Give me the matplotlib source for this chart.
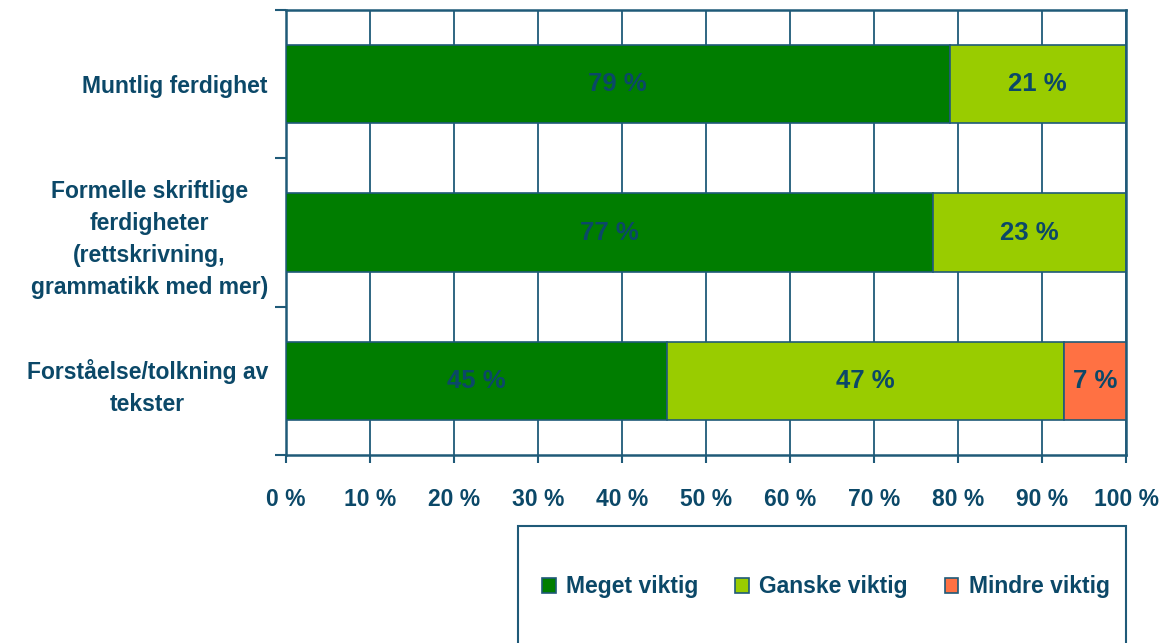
import numpy as np
import matplotlib.pyplot as plt
from matplotlib.patches import Patch, Rectangle

plt.rcParams['font.family'] = ['Liberation Sans', 'DejaVu Sans']
plt.rcParams['font.weight'] = 'bold'

categories = ['Muntlig ferdighet',
              'Formelle skriftlige\nferdigheter\n(rettskrivning,\ngrammatikk med mer)',
              'Forståelse/tolkning av\ntekster']
series_names = ['Meget viktig', 'Ganske viktig', 'Mindre viktig']
meget = [79, 77, 45.4]
ganske = [21, 23, 47.2]
mindre = [0, 0, 7.4]
colors = ['#007d00', '#99cc00', '#ff7143']
xticks = np.arange(0, 101, 10)

text_c = '#0b4868'
line_c = '#1f5a78'

fig = plt.figure(figsize=(11.68, 6.43), dpi=100)
ax = fig.add_axes([286 / 1168, 1 - 455 / 643, 840 / 1168, 445 / 643])

y = np.arange(len(categories))
left = np.zeros(len(categories))
for vals, col in zip([meget, ganske, mindre], colors):
    vals = np.array(vals, dtype=float)
    bars = ax.barh(y, vals, left=left, height=0.53, color=col,
                   edgecolor=line_c, linewidth=1.2, zorder=3)
    for b, v in zip(bars, vals):
        if v > 0:
            ax.text(b.get_x() + b.get_width() / 2, b.get_y() + b.get_height() / 2,
                    f'{v:.0f} %', ha='center', va='center', fontsize=18.5,
                    color=text_c, fontweight='bold', zorder=4)
    left += vals

ax.set_xlim(0, 100)
ax.set_ylim(2.5, -0.5)
ax.set_xticks(xticks)
ax.set_xticklabels([f'{t} %' for t in xticks], fontsize=16.5, color=text_c)
ax.xaxis.grid(True, color=line_c, linewidth=1.3, zorder=0)
ax.set_axisbelow(True)

ax.set_yticks([-0.5, 0.5, 1.5, 2.5])
ax.set_yticklabels([])
ax.set_yticks(y, minor=True)
ax.set_yticklabels(categories, minor=True, fontsize=16.5, color=text_c,
                   multialignment='center', linespacing=1.5)
ax.tick_params(axis='y', which='minor', length=0, pad=13)
ax.tick_params(axis='y', which='major', length=8, width=1.5, color=line_c)
ax.tick_params(axis='x', length=6, width=1.5, color=line_c, pad=18)

for s in ax.spines.values():
    s.set_color(line_c)
    s.set_linewidth(1.8)

# legend box
rect = Rectangle((518 / 1168, -0.02), 608 / 1168, 1 - 526 / 643 + 0.02,
                 transform=fig.transFigure, fill=False, edgecolor=line_c,
                 linewidth=1.5, clip_on=False)
fig.patches.append(rect)
handles = [Patch(facecolor=c, edgecolor=line_c, linewidth=1.2) for c in colors]
leg = fig.legend(handles, series_names, loc='center',
                 bbox_to_anchor=(826 / 1168, 1 - 587 / 643), ncol=3,
                 frameon=False, fontsize=16.5, handlelength=0.6, handleheight=0.6,
                 handletextpad=0.45, columnspacing=1.6)
for t in leg.get_texts():
    t.set_color(text_c)

fig.savefig('out.png', dpi=100)
